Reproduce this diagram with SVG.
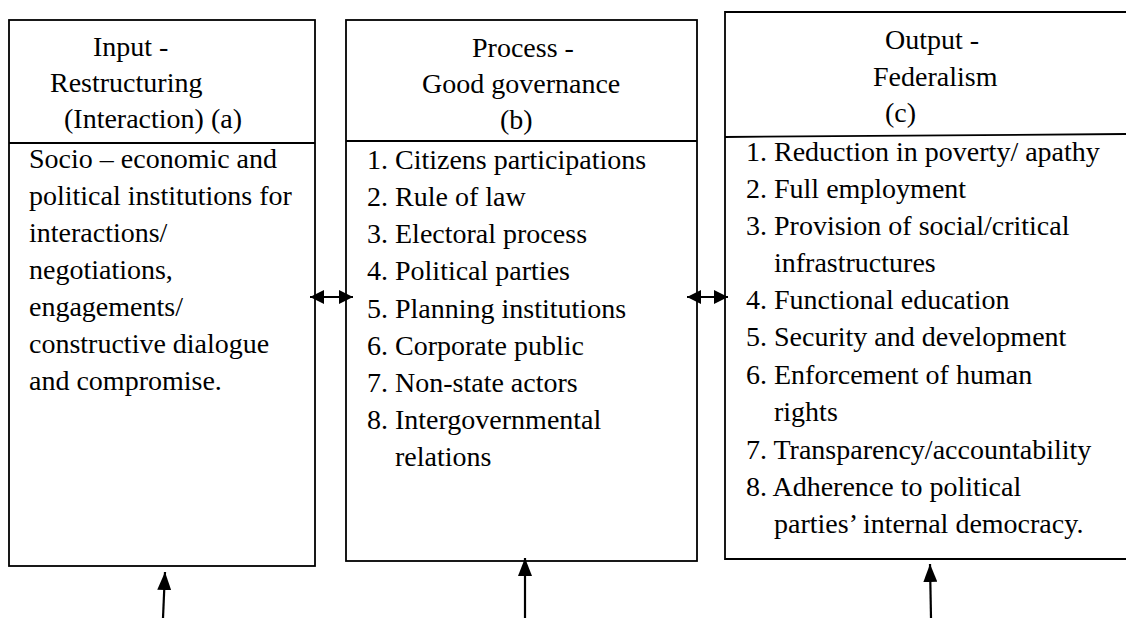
<svg xmlns="http://www.w3.org/2000/svg" width="1126" height="618" viewBox="0 0 1126 618">
<style>
  .box { fill: #ffffff; stroke: #000000; stroke-width: 1.8; }
  .div { fill: none; stroke: #000000; stroke-width: 1.8; }
  text { font-family: "Liberation Serif", "Times New Roman", serif; font-size: 28px; fill: #000000; }
  .conn { fill: none; stroke: #000000; stroke-width: 2.2; }
</style>
<defs>
  <marker id="ah" viewBox="0 0 18 14" refX="18" refY="7" markerWidth="18" markerHeight="14" markerUnits="userSpaceOnUse" orient="auto-start-reverse">
    <path d="M0,0 L18,7 L0,14 z" fill="#000000"/>
  </marker>
  <marker id="ahs" viewBox="0 0 14 14" refX="14" refY="7" markerWidth="14" markerHeight="14" markerUnits="userSpaceOnUse" orient="auto-start-reverse">
    <path d="M0,0 L14,7 L0,14 z" fill="#000000"/>
  </marker>
</defs>

<g id="input">
  <rect class="box" x="9" y="20" width="306" height="546"/>
  <line class="div" x1="9" y1="143" x2="315" y2="143"/>
  <text x="93" y="56">Input -</text>
  <text x="50" y="92">Restructuring</text>
  <text x="64" y="128">(Interaction) (a)</text>
  <text x="29" y="168">Socio – economic and</text>
  <text x="29" y="205">political institutions for</text>
  <text x="29" y="242">interactions/</text>
  <text x="29" y="279">negotiations,</text>
  <text x="29" y="316">engagements/</text>
  <text x="29" y="353">constructive dialogue</text>
  <text x="29" y="390">and compromise.</text>
</g>

<g id="process">
  <rect class="box" x="346" y="20" width="351" height="541"/>
  <line class="div" x1="346" y1="141" x2="697" y2="141"/>
  <text x="472" y="57">Process -</text>
  <text x="422" y="93">Good governance</text>
  <text x="500" y="129">(b)</text>
  <text x="367" y="169">1. Citizens participations</text>
  <text x="367" y="206">2. Rule of law</text>
  <text x="367" y="243">3. Electoral process</text>
  <text x="367" y="280">4. Political parties</text>
  <text x="367" y="318">5. Planning institutions</text>
  <text x="367" y="355">6. Corporate public</text>
  <text x="367" y="392">7. Non-state actors</text>
  <text x="367" y="429">8. Intergovernmental</text>
  <text x="395" y="466">relations</text>
</g>

<g id="output">
  <path class="box" d="M1126,12 H725 V559 H1126"/>
  <line class="div" x1="725" y1="137" x2="1126" y2="134"/>
  <text x="885" y="49">Output -</text>
  <text x="873" y="86">Federalism</text>
  <text x="885" y="122">(c)</text>
  <text x="746" y="161">1. Reduction in poverty/ apathy</text>
  <text x="746" y="198">2. Full employment</text>
  <text x="746" y="235">3. Provision of social/critical</text>
  <text x="774" y="272">infrastructures</text>
  <text x="746" y="309">4. Functional education</text>
  <text x="746" y="346">5. Security and development</text>
  <text x="746" y="384">6. Enforcement of human</text>
  <text x="774" y="421">rights</text>
  <text x="746" y="459">7. Transparency/accountability</text>
  <text x="746" y="496">8. Adherence to political</text>
  <text x="774" y="533">parties’ internal democracy.</text>
</g>

<g id="connectors">
  <line class="conn" x1="310" y1="297" x2="353" y2="297" marker-start="url(#ahs)" marker-end="url(#ahs)"/>
  <line class="conn" x1="687" y1="297" x2="728" y2="297" marker-start="url(#ahs)" marker-end="url(#ahs)"/>
  <line class="conn" x1="163" y1="618" x2="165" y2="572" marker-end="url(#ah)"/>
  <line class="conn" x1="525" y1="618" x2="525" y2="558" marker-end="url(#ah)"/>
  <line class="conn" x1="931" y1="618" x2="930" y2="564" marker-end="url(#ah)"/>
</g>
</svg>
